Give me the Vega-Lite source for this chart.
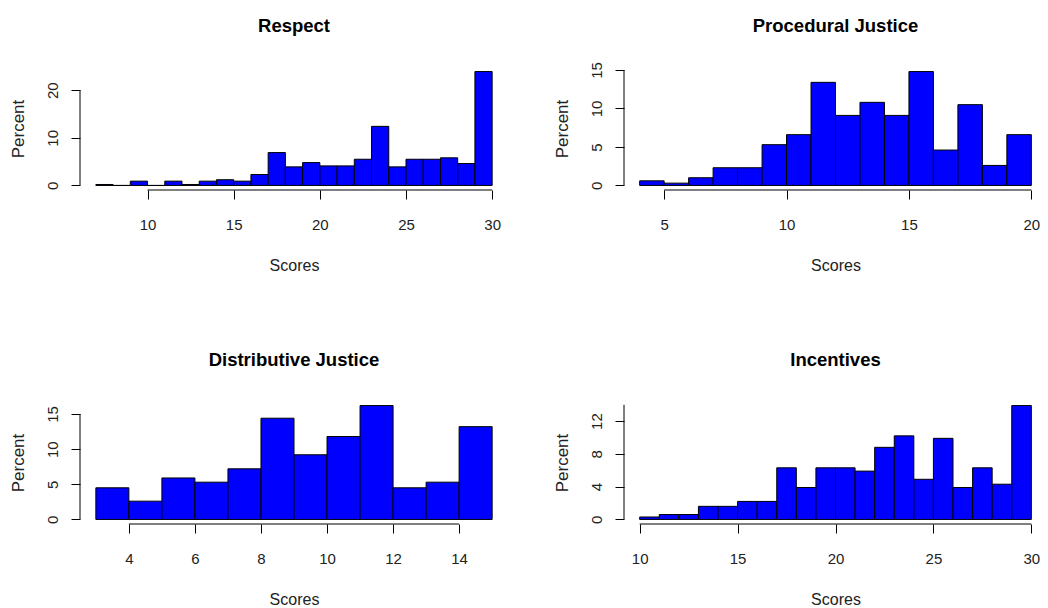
{
  "$schema": "https://vega.github.io/schema/vega-lite/v6.json",
  "background": "white",
  "padding": {"left": 9, "top": 16, "right": 0, "bottom": 0},
  "columns": 2,
  "spacing": {"row": 211, "column": 116},
  "bounds": "flush",
  "datasets": {
    "respect": [
      {"lo": 7, "hi": 8, "pct": 0.2}, {"lo": 8, "hi": 9, "pct": 0}, {"lo": 9, "hi": 10, "pct": 0.9},
      {"lo": 10, "hi": 11, "pct": 0}, {"lo": 11, "hi": 12, "pct": 0.9}, {"lo": 12, "hi": 13, "pct": 0.2},
      {"lo": 13, "hi": 14, "pct": 0.9}, {"lo": 14, "hi": 15, "pct": 1.2}, {"lo": 15, "hi": 16, "pct": 0.9},
      {"lo": 16, "hi": 17, "pct": 2.3}, {"lo": 17, "hi": 18, "pct": 6.9}, {"lo": 18, "hi": 19, "pct": 3.9},
      {"lo": 19, "hi": 20, "pct": 4.8}, {"lo": 20, "hi": 21, "pct": 4.1}, {"lo": 21, "hi": 22, "pct": 4.1},
      {"lo": 22, "hi": 23, "pct": 5.5}, {"lo": 23, "hi": 24, "pct": 12.4}, {"lo": 24, "hi": 25, "pct": 3.9},
      {"lo": 25, "hi": 26, "pct": 5.5}, {"lo": 26, "hi": 27, "pct": 5.5}, {"lo": 27, "hi": 28, "pct": 5.8},
      {"lo": 28, "hi": 29, "pct": 4.6}, {"lo": 29, "hi": 30, "pct": 23.9}
    ],
    "procedural": [
      {"lo": 4, "hi": 5, "pct": 0.6}, {"lo": 5, "hi": 6, "pct": 0.3}, {"lo": 6, "hi": 7, "pct": 1.0},
      {"lo": 7, "hi": 8, "pct": 2.3}, {"lo": 8, "hi": 9, "pct": 2.3}, {"lo": 9, "hi": 10, "pct": 5.3},
      {"lo": 10, "hi": 11, "pct": 6.6}, {"lo": 11, "hi": 12, "pct": 13.4}, {"lo": 12, "hi": 13, "pct": 9.1},
      {"lo": 13, "hi": 14, "pct": 10.8}, {"lo": 14, "hi": 15, "pct": 9.1}, {"lo": 15, "hi": 16, "pct": 14.8},
      {"lo": 16, "hi": 17, "pct": 4.6}, {"lo": 17, "hi": 18, "pct": 10.5}, {"lo": 18, "hi": 19, "pct": 2.6},
      {"lo": 19, "hi": 20, "pct": 6.6}
    ],
    "distributive": [
      {"lo": 3, "hi": 4, "pct": 4.5}, {"lo": 4, "hi": 5, "pct": 2.6}, {"lo": 5, "hi": 6, "pct": 5.9},
      {"lo": 6, "hi": 7, "pct": 5.3}, {"lo": 7, "hi": 8, "pct": 7.2}, {"lo": 8, "hi": 9, "pct": 14.4},
      {"lo": 9, "hi": 10, "pct": 9.2}, {"lo": 10, "hi": 11, "pct": 11.8}, {"lo": 11, "hi": 12, "pct": 16.2},
      {"lo": 12, "hi": 13, "pct": 4.5}, {"lo": 13, "hi": 14, "pct": 5.3}, {"lo": 14, "hi": 15, "pct": 13.2}
    ],
    "incentives": [
      {"lo": 10, "hi": 11, "pct": 0.3}, {"lo": 11, "hi": 12, "pct": 0.6}, {"lo": 12, "hi": 13, "pct": 0.6},
      {"lo": 13, "hi": 14, "pct": 1.6}, {"lo": 14, "hi": 15, "pct": 1.6}, {"lo": 15, "hi": 16, "pct": 2.2},
      {"lo": 16, "hi": 17, "pct": 2.2}, {"lo": 17, "hi": 18, "pct": 6.3}, {"lo": 18, "hi": 19, "pct": 3.9},
      {"lo": 19, "hi": 20, "pct": 6.3}, {"lo": 20, "hi": 21, "pct": 6.3}, {"lo": 21, "hi": 22, "pct": 5.9},
      {"lo": 22, "hi": 23, "pct": 8.8}, {"lo": 23, "hi": 24, "pct": 10.2}, {"lo": 24, "hi": 25, "pct": 4.9},
      {"lo": 25, "hi": 26, "pct": 9.9}, {"lo": 26, "hi": 27, "pct": 3.9}, {"lo": 27, "hi": 28, "pct": 6.3},
      {"lo": 28, "hi": 29, "pct": 4.3}, {"lo": 29, "hi": 30, "pct": 13.9}
    ],
    "one": [{}]
  },
  "concat": [
    {
      "title": {"text": "Respect", "offset": 31.5},
      "width": 428, "height": 123,
      "layer": [
        {
          "data": {"name": "respect"},
          "mark": {"type": "bar", "fill": "#0000FF", "stroke": "#000000", "strokeWidth": 1},
          "encoding": {
            "x": {"field": "lo", "type": "quantitative", "scale": {"domain": [6.08, 30.92], "nice": false, "zero": false},
                  "axis": {"values": [10, 15, 20, 25, 30], "title": "Scores"}},
            "x2": {"field": "hi"},
            "y": {"field": "pct", "type": "quantitative", "scale": {"domain": [-0.956, 24.856], "nice": false, "zero": false},
                  "axis": {"values": [0, 5, 10, 15, 20], "labelExpr": "datum.value % 10 === 0 ? datum.label : ''", "title": "Percent"}},
            "y2": {"datum": 0}
          }
        },
        {"data": {"name": "one"}, "mark": {"type": "rule", "color": "#000000"},
         "encoding": {"x": {"datum": 10}, "x2": {"datum": 30}, "y": {"datum": -0.956}}},
        {"data": {"name": "one"}, "mark": {"type": "rule", "color": "#000000"},
         "encoding": {"x": {"datum": 6.08}, "y": {"datum": 0}, "y2": {"datum": 20}}}
      ]
    },
    {
      "title": {"text": "Procedural Justice", "offset": 26.2},
      "width": 423, "height": 123,
      "layer": [
        {
          "data": {"name": "procedural"},
          "mark": {"type": "bar", "fill": "#0000FF", "stroke": "#000000", "strokeWidth": 1},
          "encoding": {
            "x": {"field": "lo", "type": "quantitative", "scale": {"domain": [3.36, 20.64], "nice": false, "zero": false},
                  "axis": {"values": [5, 10, 15, 20], "title": "Scores"}},
            "x2": {"field": "hi"},
            "y": {"field": "pct", "type": "quantitative", "scale": {"domain": [-0.592, 15.392], "nice": false, "zero": false},
                  "axis": {"values": [0, 5, 10, 15], "title": "Percent"}},
            "y2": {"datum": 0}
          }
        },
        {"data": {"name": "one"}, "mark": {"type": "rule", "color": "#000000"},
         "encoding": {"x": {"datum": 5}, "x2": {"datum": 20}, "y": {"datum": -0.592}}},
        {"data": {"name": "one"}, "mark": {"type": "rule", "color": "#000000"},
         "encoding": {"x": {"datum": 3.36}, "y": {"datum": 0}, "y2": {"datum": 15}}}
      ]
    },
    {
      "title": {"text": "Distributive Justice", "offset": 31.5},
      "width": 428, "height": 123,
      "layer": [
        {
          "data": {"name": "distributive"},
          "mark": {"type": "bar", "fill": "#0000FF", "stroke": "#000000", "strokeWidth": 1},
          "encoding": {
            "x": {"field": "lo", "type": "quantitative", "scale": {"domain": [2.52, 15.48], "nice": false, "zero": false},
                  "axis": {"values": [4, 6, 8, 10, 12, 14], "title": "Scores"}},
            "x2": {"field": "hi"},
            "y": {"field": "pct", "type": "quantitative", "scale": {"domain": [-0.648, 16.848], "nice": false, "zero": false},
                  "axis": {"values": [0, 5, 10, 15], "title": "Percent"}},
            "y2": {"datum": 0}
          }
        },
        {"data": {"name": "one"}, "mark": {"type": "rule", "color": "#000000"},
         "encoding": {"x": {"datum": 4}, "x2": {"datum": 14}, "y": {"datum": -0.648}}},
        {"data": {"name": "one"}, "mark": {"type": "rule", "color": "#000000"},
         "encoding": {"x": {"datum": 2.52}, "y": {"datum": 0}, "y2": {"datum": 15}}}
      ]
    },
    {
      "title": {"text": "Incentives", "offset": 31.5},
      "width": 423, "height": 123,
      "layer": [
        {
          "data": {"name": "incentives"},
          "mark": {"type": "bar", "fill": "#0000FF", "stroke": "#000000", "strokeWidth": 1},
          "encoding": {
            "x": {"field": "lo", "type": "quantitative", "scale": {"domain": [9.2, 30.8], "nice": false, "zero": false},
                  "axis": {"values": [10, 15, 20, 25, 30], "title": "Scores"}},
            "x2": {"field": "hi"},
            "y": {"field": "pct", "type": "quantitative", "scale": {"domain": [-0.556, 14.456], "nice": false, "zero": false},
                  "axis": {"values": [0, 2, 4, 6, 8, 10, 12, 14], "labelExpr": "datum.value % 4 === 0 ? datum.label : ''", "title": "Percent"}},
            "y2": {"datum": 0}
          }
        },
        {"data": {"name": "one"}, "mark": {"type": "rule", "color": "#000000"},
         "encoding": {"x": {"datum": 10}, "x2": {"datum": 30}, "y": {"datum": -0.556}}},
        {"data": {"name": "one"}, "mark": {"type": "rule", "color": "#000000"},
         "encoding": {"x": {"datum": 9.2}, "y": {"datum": 0}, "y2": {"datum": 14}}}
      ]
    }
  ],
  "config": {
    "view": {"stroke": null},
    "axis": {
      "grid": false, "domain": false, "ticks": true, "tickColor": "#000000", "tickWidth": 1, "tickSize": 9,
      "labelColor": "#222222", "titleColor": "#222222", "titleFontWeight": "normal",
      "labelFlush": false, "labelOverlap": false
    },
    "axisX": {
      "labelFont": "Liberation Sans", "labelFontSize": 15, "labelBaseline": "alphabetic", "labelPadding": 30,
      "titleFont": "Liberation Sans", "titleFontSize": 16, "titleBaseline": "alphabetic", "titlePadding": 38
    },
    "axisY": {
      "labelFont": "Liberation Sans", "labelFontSize": 15, "labelAngle": -90, "labelAlign": "center", "labelBaseline": "alphabetic", "labelPadding": 13.5,
      "titleFont": "Liberation Sans", "titleFontSize": 17, "titleBaseline": "alphabetic", "titlePadding": 22
    },
    "title": {"font": "Liberation Sans", "fontSize": 18.5, "fontWeight": "bold", "color": "#000000", "frame": "group", "anchor": "middle", "baseline": "alphabetic"}
  }
}
